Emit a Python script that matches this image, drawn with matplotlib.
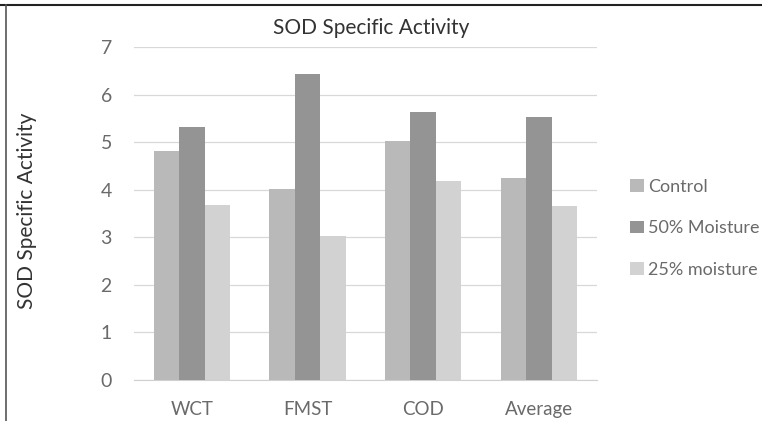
import matplotlib
matplotlib.use("Agg")
import matplotlib.pyplot as plt
import numpy as np

categories = ["WCT", "FMST", "COD", "Average"]
series_names = ["Control", "50% Moisture", "25% moisture"]
control = [4.82, 4.03, 5.03, 4.25]
moist50 = [5.33, 6.44, 5.65, 5.54]
moist25 = [3.68, 3.03, 4.19, 3.67]
yticks = [0, 1, 2, 3, 4, 5, 6, 7]

colors = ["#b9b9b9", "#949494", "#d2d2d2"]

plt.rcParams['font.family'] = ['Lato', 'DejaVu Sans']

fig = plt.figure(figsize=(7.62, 4.21), dpi=100)
ax = fig.add_axes([0.176, 0.0974, 0.607, 0.79])

x = np.arange(len(categories))
w = 0.22
for i, (vals, name, c) in enumerate(zip([control, moist50, moist25], series_names, colors)):
    ax.bar(x + (i - 1) * w, vals, width=w, color=c, label=name, zorder=3)

ax.set_xlim(-0.5, len(categories) - 0.5)
ax.set_ylim(0, 7)
ax.set_yticks(yticks)
ax.set_yticklabels([str(t) for t in yticks], fontsize=14)
ax.set_xticks(x)
ax.set_xticklabels(categories, fontsize=13.5)
ax.tick_params(axis='both', length=0, labelcolor="#6a6a6a")
ax.tick_params(axis='y', pad=16)
ax.tick_params(axis='x', pad=15)
ax.yaxis.grid(True, color="#d8d8d8", linewidth=0.9, zorder=0)
for s in ["top", "right", "left"]:
    ax.spines[s].set_visible(False)
ax.spines["bottom"].set_color("#d0d0d0")

fig.text(27 / 762, 0.5, "SOD Specific Activity", rotation=90, ha="center", va="center",
         fontsize=15, color="#333333")
fig.text(0.487, 0.933, "SOD Specific Activity", ha="center", va="center",
         fontsize=15, color="#333333")

leg = fig.legend(loc="upper left", bbox_to_anchor=(0.806, 0.614), frameon=False,
                 fontsize=13, handlelength=0.75, handleheight=0.7,
                 handletextpad=0.25, labelspacing=1.42)
for t in leg.get_texts():
    t.set_color("#6a6a6a")

# figure frame lines (top and left)
fig.add_artist(plt.Line2D([0.0, 1.0], [0.988, 0.988], color="#222222", linewidth=1.5,
                          transform=fig.transFigure))
fig.add_artist(plt.Line2D([0.008, 0.008], [0.0, 0.988], color="#555555", linewidth=1.2,
                          transform=fig.transFigure))

fig.savefig("out.png", dpi=100)
